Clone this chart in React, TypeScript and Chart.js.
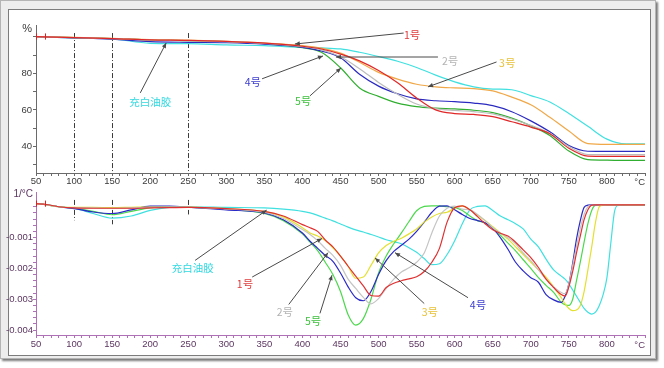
import React, { useEffect, useRef } from 'react';
import { Chart, registerables } from 'chart.js';
Chart.register(...registerables);

// ---------- data ----------
const tgaTemps = [50, 100, 150, 200, 250, 300, 350, 400, 425, 450, 475, 500, 525, 550, 575, 600, 625, 650, 675, 700, 725, 750, 775, 800, 825, 850];
const tga1 = [100, 99.5, 99, 98.3, 98, 97.4, 96.5, 94.8, 93.3, 90.5, 86.8, 81.5, 74.8, 66.5, 60, 58, 57.5, 56.3, 53.5, 50.6, 47, 39, 34.7, 34.6, 34.6, 34.6];
const tga2 = [100, 99.5, 99, 98.2, 97.9, 97.3, 96.4, 94.6, 92.8, 89, 82.5, 75, 68.5, 63.2, 60.7, 59.7, 59, 57.8, 55, 51.5, 47.2, 40, 35.6, 35.5, 35.5, 35.5];
const tga3 = [100, 99.6, 99.1, 98.4, 98.1, 97.5, 96.6, 95.2, 93.8, 91, 86, 80.5, 76.8, 74, 72.6, 72, 71.6, 70.4, 67, 62.8, 56, 48.5, 41.6, 41.2, 41.2, 41.2];
const tga4 = [100, 99.4, 98.6, 97.3, 96.9, 96.7, 95.9, 94.2, 92.2, 88.5, 79.5, 73, 68.8, 66, 65, 64.5, 63.7, 62.3, 59, 54, 48, 40.5, 37.4, 37.3, 37.3, 37.3];
const tga5 = [100, 99.5, 99, 98.2, 97.9, 97.3, 96.2, 94, 91.5, 83, 72, 67.4, 63.7, 61.8, 61, 60.5, 59.8, 58.5, 55.5, 51.3, 46, 37.5, 32.8, 32.5, 32.4, 32.4];
const tgaBlank = [100, 99.3, 98.8, 96.4, 96.2, 95.5, 95.1, 94.2, 93.9, 93.3, 91.5, 89.2, 86.6, 83.2, 79, 75.3, 72.6, 71.4, 71, 67.8, 64.3, 58, 51, 44, 41.4, 41.4];

const dtgTemps = [50, 62, 80, 100, 125, 150, 175, 200, 225, 250, 300, 350, 375, 400, 410, 420, 430, 440, 450, 460, 470, 480, 490, 500, 510, 520, 530, 540, 550, 560, 570, 580, 590, 600, 610, 620, 630, 640, 650, 660, 670, 680, 690, 700, 710, 720, 730, 740, 745, 750, 755, 760, 765, 770, 775, 780, 785, 790, 795, 800, 805, 810, 815, 820, 850];
const dtg1 = [0.0001, 0.00008, 0, -0.00004, -0.00005, -0.00005, -0.00005, -0.00004, -0.00003, -0.00002, -0.00006, -0.00015, -0.0003, -0.00058, -0.00068, -0.0008, -0.00108, -0.0013, -0.0016, -0.00193, -0.00225, -0.00257, -0.00288, -0.0029, -0.00262, -0.00248, -0.0024, -0.00234, -0.00227, -0.0021, -0.0018, -0.00135, -0.0005, -0.00003, 0.00003, -0.0001, -0.00032, -0.00055, -0.00075, -0.00086, -0.00095, -0.00115, -0.0014, -0.00165, -0.00197, -0.00235, -0.00262, -0.00285, -0.0029, -0.0026, -0.0021, -0.0015, -0.00095, -0.00042, -0.0001, 0.00005, 0.00006, 0.00006, 0.00006, 0.00006, 0.00006, 0.00006, 0.00006, 0.00006, 0.00006];
const dtg2 = [0.0001, 0.00007, 0, -0.00003, -0.00004, -0.00005, -0.00004, -0.00002, -0.00001, -0.00001, -0.00007, -0.00018, -0.00038, -0.00074, -0.0009, -0.0011, -0.00135, -0.00158, -0.0019, -0.00235, -0.00265, -0.00294, -0.00315, -0.00298, -0.00265, -0.00235, -0.00212, -0.00198, -0.0018, -0.0015, -0.00085, -0.0003, -0.00005, 0.00002, -0.00008, -0.0001, -0.00025, -0.00045, -0.00068, -0.00085, -0.001, -0.0012, -0.0015, -0.00175, -0.00205, -0.00235, -0.0026, -0.00278, -0.00282, -0.0025, -0.0019, -0.0013, -0.0007, -0.00025, 0, 0.00005, 0.00006, 0.00006, 0.00006, 0.00006, 0.00006, 0.00006, 0.00006, 0.00006, 0.00006];
const dtg3 = [0.0001, 0.00007, 0, -0.00002, -0.00002, -0.00003, -0.00002, -0.00001, -0.00001, -0.00001, -0.00006, -0.00016, -0.00033, -0.00068, -0.00085, -0.00095, -0.0011, -0.00133, -0.0016, -0.00193, -0.00232, -0.00228, -0.0019, -0.0015, -0.00126, -0.00112, -0.00102, -0.00088, -0.00072, -0.0005, -0.00033, -0.00022, -0.00018, -0.00005, 0.00003, -0.0001, -0.00028, -0.00045, -0.00065, -0.00085, -0.00105, -0.0013, -0.00155, -0.0018, -0.00205, -0.00228, -0.0026, -0.00295, -0.00315, -0.0033, -0.00337, -0.00335, -0.0032, -0.00275, -0.00205, -0.0013, -0.0005, 0, 0.00005, 0.00006, 0.00006, 0.00006, 0.00006, 0.00006, 0.00006];
const dtg4 = [0.0001, 0.00007, 0, -0.00006, -0.00017, -0.00022, -0.0001, 0.00002, 0.00002, -0.00001, -0.0001, -0.0002, -0.00042, -0.00085, -0.00112, -0.00135, -0.00158, -0.00177, -0.00215, -0.0026, -0.00295, -0.00305, -0.00275, -0.0022, -0.00175, -0.00145, -0.00125, -0.00105, -0.0008, -0.0005, -0.00018, 0.00002, 0.00003, -0.0001, -0.00025, -0.00038, -0.00045, -0.00052, -0.0007, -0.001, -0.00138, -0.0018, -0.00208, -0.0023, -0.00245, -0.00285, -0.00302, -0.0031, -0.0029, -0.0025, -0.00183, -0.00105, -0.00045, -0.00002, 0.00005, 0.00006, 0.00006, 0.00006, 0.00006, 0.00006, 0.00006, 0.00006, 0.00006, 0.00006, 0.00006];
const dtg5 = [0.0001, 0.00007, 0, -0.00005, -0.00015, -0.00026, -0.00015, -0.00004, 0, -0.00001, -0.00008, -0.00022, -0.00045, -0.00088, -0.00115, -0.00142, -0.0018, -0.0022, -0.00275, -0.0035, -0.00384, -0.00363, -0.003, -0.00215, -0.0016, -0.0012, -0.00085, -0.00048, -0.00013, 0.00001, 0.00003, 0.00003, 0, -0.00002, -0.00012, -0.0003, -0.00045, -0.00053, -0.0007, -0.00092, -0.00118, -0.00143, -0.00172, -0.002, -0.0023, -0.00255, -0.00278, -0.0031, -0.00318, -0.0032, -0.003, -0.0024, -0.0018, -0.00115, -0.00055, -0.00012, 0.00005, 0.00006, 0.00006, 0.00006, 0.00006, 0.00006, 0.00006, 0.00006, 0.00006];
const dtgBlank = [0.0001, 0.00007, 0, -0.00005, -0.00022, -0.00037, -0.0003, -0.00012, -0.00002, 0, -0.00002, -0.00004, -0.00008, -0.00015, -0.0002, -0.00028, -0.00037, -0.00046, -0.00056, -0.00066, -0.00075, -0.00082, -0.0009, -0.00098, -0.00107, -0.00113, -0.0012, -0.00133, -0.00148, -0.00168, -0.00188, -0.00185, -0.00155, -0.0011, -0.00055, -0.0001, 0.00001, 0.00003, -0.00012, -0.0003, -0.00042, -0.00055, -0.00072, -0.00105, -0.0013, -0.0017, -0.00205, -0.00225, -0.00235, -0.0025, -0.0027, -0.0029, -0.0031, -0.0033, -0.00342, -0.00348, -0.00342, -0.0032, -0.00285, -0.0023, -0.0012, -0.00015, 0.00005, 0.00006, 0.00006];

const seriesNames = ['1号', '2号', '3号', '4号', '5号', '充白油胶'];
const xTickLabels = [50, 100, 150, 200, 250, 300, 350, 400, 450, 500, 550, 600, 650, 700, 750, 800];
const tgaTickLabels = [40, 60, 80];
const dtgTickLabels = [-0.001, -0.002, -0.003, -0.004];
const markTemps = [100, 150, 250];

// ---------- styles ----------
const NUM_FONT = "'Liberation Sans',Arial,sans-serif";
const CJK_FONT = "'Noto Sans CJK SC','Noto Sans',sans-serif";
const topColors = ['#e02828', '#bcbcbc', '#f0a848', '#2a2ac0', '#2fae2f', '#40e0e0'];
const botColors = ['#e03030', '#c4c4c4', '#e4e030', '#2a2ac8', '#4cd84c', '#40e0e0'];
const textColors = ['#e03c3c', '#b4b4b4', '#e8c038', '#3c3cd0', '#3cc03c', '#30d8e0'];

type Note = { s: number; tx: number; ty: number; sx: number; sy: number; ex: number; ey: number };
const topNotes: Note[] = [
  { s: 0, tx: 544, ty: 100.9, sx: 533, sy: 102, ex: 390, ey: 96 },
  { s: 1, tx: 594, ty: 86.8, sx: 578, sy: 88.9, ex: 444, ey: 88.9 },
  { s: 2, tx: 669, ty: 85.7, sx: 655, sy: 86.2, ex: 565, ey: 72.6 },
  { s: 3, tx: 335, ty: 75.3, sx: 347, sy: 77, ex: 427, ey: 89.5 },
  { s: 4, tx: 401, ty: 65, sx: 410, sy: 67.7, ex: 450.6, ey: 82.9 },
  { s: 5, tx: 200, ty: 64.4, sx: 187, sy: 69.3, ex: 221, ey: 96.6 },
];
const botNotes: Note[] = [
  { s: 5, tx: 256, ty: -0.002, sx: 259, sy: -0.00174, ex: 353, ey: -0.00011 },
  { s: 0, tx: 324.5, ty: -0.00251, sx: 334, sy: -0.00228, ex: 425.7, ey: -0.00103 },
  { s: 1, tx: 377, ty: -0.00343, sx: 382, sy: -0.00317, ex: 433.6, ey: -0.00149 },
  { s: 4, tx: 414, ty: -0.00372, sx: 423, sy: -0.00346, ex: 438.8, ey: -0.00222 },
  { s: 2, tx: 567.5, ty: -0.0034, sx: 560, sy: -0.00314, ex: 495.3, ey: -0.00166 },
  { s: 3, tx: 630.6, ty: -0.00318, sx: 617.5, sy: -0.00295, ex: 521.6, ey: -0.00149 },
];

function makePlugin(opts: any) {
  return {
    id: 'extras',
    beforeDatasetsDraw(chart: any) {
      const { ctx, scales } = chart;
      const x = scales.x, y = scales.y;
      ctx.save();
      ctx.strokeStyle = '#3c3c3c';
      ctx.lineWidth = 1;
      ctx.setLineDash([5, 2, 1, 2]);
      opts.vlines.forEach((v: any) => {
        const px = Math.round(x.getPixelForValue(v.t)) + 0.5;
        ctx.beginPath();
        ctx.moveTo(px, y.getPixelForValue(v.from));
        ctx.lineTo(px, y.getPixelForValue(v.to));
        ctx.stroke();
      });
      ctx.restore();
    },
    afterDatasetsDraw(chart: any) {
      const { ctx, scales } = chart;
      const x = scales.x, y = scales.y;
      ctx.save();
      ctx.strokeStyle = '#e02020';
      ctx.lineWidth = 1;
      opts.markers.forEach((m: any) => {
        const px = Math.round(x.getPixelForValue(m.t)) + 0.5;
        ctx.beginPath();
        ctx.moveTo(px, y.getPixelForValue(m.from));
        ctx.lineTo(px, y.getPixelForValue(m.to));
        ctx.stroke();
      });
      opts.notes.forEach((n: Note) => {
        const x1 = x.getPixelForValue(n.sx), y1 = y.getPixelForValue(n.sy);
        const x2 = x.getPixelForValue(n.ex), y2 = y.getPixelForValue(n.ey);
        ctx.strokeStyle = '#4a4a4a';
        ctx.fillStyle = '#4a4a4a';
        ctx.lineWidth = 1;
        ctx.beginPath();
        ctx.moveTo(x1, y1);
        ctx.lineTo(x2, y2);
        ctx.stroke();
        const a = Math.atan2(y2 - y1, x2 - x1);
        const L = 5, W = 2.2;
        ctx.beginPath();
        ctx.moveTo(x2, y2);
        ctx.lineTo(x2 - L * Math.cos(a) + W * Math.sin(a), y2 - L * Math.sin(a) - W * Math.cos(a));
        ctx.lineTo(x2 - L * Math.cos(a) - W * Math.sin(a), y2 - L * Math.sin(a) + W * Math.cos(a));
        ctx.closePath();
        ctx.fill();
        ctx.font = `10.5px ${CJK_FONT}`;
        ctx.textAlign = 'center';
        ctx.textBaseline = 'middle';
        ctx.fillStyle = textColors[n.s];
        ctx.fillText(seriesNames[n.s], x.getPixelForValue(n.tx), y.getPixelForValue(n.ty));
      });
      ctx.restore();
    },
    afterDraw(chart: any) {
      const { ctx, chartArea } = chart;
      ctx.save();
      ctx.fillStyle = opts.labelColor;
      ctx.font = `9.5px ${NUM_FONT}`;
      ctx.textAlign = 'right';
      ctx.textBaseline = 'middle';
      ctx.fillText('°C', chartArea.right, chartArea.bottom + opts.xLabelOffset);
      ctx.font = `${opts.unitSize}px ${NUM_FONT}`;
      ctx.fillText(opts.unit, chartArea.left + opts.unitDx, chartArea.top + opts.unitDy);
      ctx.restore();
    },
  };
}

function xTickList() {
  const t: { value: number }[] = [];
  for (let v = 50; v <= 850; v += 10) t.push({ value: v });
  return t;
}

function buildChart(canvas: HTMLCanvasElement, top: boolean) {
  const temps = top ? tgaTemps : dtgTemps;
  const series = top ? [tga1, tga2, tga3, tga4, tga5, tgaBlank] : [dtg1, dtg2, dtg3, dtg4, dtg5, dtgBlank];
  const colors = top ? topColors : botColors;
  const axisColor = top ? '#6a6a6a' : '#b070b8';
  const labelColor = top ? '#3a3a3a' : '#5c3560';
  const font = { family: NUM_FONT, size: 9.5 };
  const datasets = series.map((arr, i) => ({
    label: seriesNames[i],
    data: temps.map((t, k) => ({ x: t, y: arr[k] })),
    borderColor: colors[i],
    backgroundColor: colors[i],
    borderWidth: 1.2,
    pointRadius: 0,
    fill: false,
    cubicInterpolationMode: 'monotone' as const,
  }));
  const plugin = makePlugin(
    top
      ? {
          vlines: markTemps.map((t) => ({ t, from: 102, to: 25.5 })),
          markers: [{ t: 50, from: 101.8, to: 98.4 }, { t: 62, from: 101.8, to: 98.4 }],
          notes: topNotes,
          labelColor,
          xLabelOffset: 9,
          unit: '%',
          unitSize: 11,
          unitDx: -4,
          unitDy: 4,
        }
      : {
          vlines: [
            { t: markTemps[0], from: 0.00022, to: -0.00044 },
            { t: markTemps[1], from: 0.00022, to: -0.00057 },
            { t: markTemps[2], from: 0.00022, to: -0.00025 },
          ],
          markers: [{ t: 50.5, from: 0.0002, to: 0.0 }, { t: 62, from: 0.0002, to: 0.0 }],
          notes: botNotes,
          labelColor,
          xLabelOffset: 10,
          unit: '1/°C',
          unitSize: 10,
          unitDx: -3,
          unitDy: 2,
        }
  );
  return new Chart(canvas, {
    type: 'line',
    data: { datasets } as any,
    options: {
      animation: false,
      responsive: false,
      maintainAspectRatio: false,
      devicePixelRatio: 1,
      layout: { padding: { top: top ? 15 : 3, right: 12, bottom: 0, left: 0 } },
      plugins: { legend: { display: false }, tooltip: { enabled: false } },
      scales: {
        x: {
          type: 'linear',
          min: 50,
          max: 850,
          afterBuildTicks: (s: any) => {
            s.ticks = xTickList();
          },
          afterFit: (s: any) => {
            s.height = top ? 14 : 19;
          },
          ticks: {
            autoSkip: false,
            maxRotation: 0,
            padding: top ? 0 : 1,
            color: labelColor,
            font,
            callback: (v: any) => (xTickLabels.includes(v) ? String(v) : ''),
          },
          grid: { drawOnChartArea: false, drawTicks: true, tickLength: 3, color: axisColor },
          border: { display: true, color: axisColor },
        },
        y: {
          type: 'linear',
          min: top ? 25.5 : -0.00416,
          max: top ? 106.4 : 0.000455,
          afterBuildTicks: (s: any) => {
            const t: { value: number }[] = [];
            if (top) for (let v = 30; v <= 100; v += 10) t.push({ value: v });
            else for (let i = 0; i <= 20; i++) t.push({ value: -i / 5000 });
            s.ticks = t;
          },
          afterFit: (s: any) => {
            s.width = 36;
          },
          ticks: {
            autoSkip: false,
            padding: top ? 1 : 0,
            color: labelColor,
            font,
            callback: (v: any) => {
              if (top) return tgaTickLabels.includes(v) ? String(v) : '';
              const hit = dtgTickLabels.find((d) => Math.abs(d - v) < 1e-9);
              return hit !== undefined ? hit.toFixed(3) : '';
            },
          },
          grid: { drawOnChartArea: false, drawTicks: true, tickLength: 3, color: axisColor },
          border: { display: true, color: axisColor },
        },
      },
    } as any,
    plugins: [plugin],
  });
}

export default function App() {
  const topRef = useRef<HTMLCanvasElement>(null);
  const botRef = useRef<HTMLCanvasElement>(null);
  useEffect(() => {
    const c1 = buildChart(topRef.current!, true);
    const c2 = buildChart(botRef.current!, false);
    return () => {
      c1.destroy();
      c2.destroy();
    };
  }, []);
  return (
    <div style={{ position: 'absolute', left: 0, top: 0, width: 664, height: 368, background: '#fff', overflow: 'hidden' }}>
      <div
        style={{
          position: 'absolute', left: 0, top: 0, width: 656, height: 359, boxSizing: 'border-box',
          border: '1px solid #b4b4b4', background: '#ededed', boxShadow: '2px 2px 2px #7a7a7a',
        }}
      />
      <div
        style={{
          position: 'absolute', left: 8, top: 9, width: 643, height: 347, boxSizing: 'border-box',
          border: '1px solid #7c7c7c', background: '#fff',
        }}
      />
      <canvas ref={topRef} width={657} height={177} style={{ position: 'absolute', left: 0, top: 10, width: 657, height: 177 }} />
      <canvas ref={botRef} width={657} height={167} style={{ position: 'absolute', left: 0, top: 187, width: 657, height: 167 }} />
    </div>
  );
}
